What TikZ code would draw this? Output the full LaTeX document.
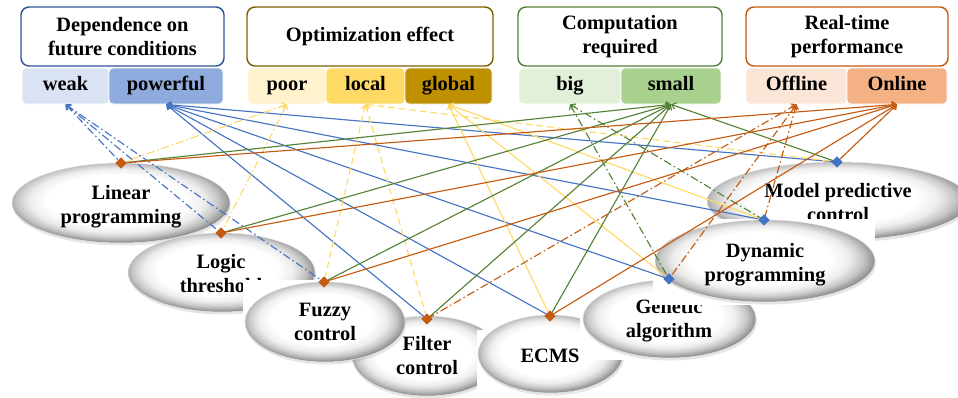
\documentclass[tikz,border=0pt]{standalone}
\usepackage{fontspec}
\setmainfont{Liberation Serif}
\usetikzlibrary{arrows.meta,shapes.geometric}

% frame colours of the four criteria
\definecolor{hblue}{HTML}{2F5597}
\definecolor{hbrown}{HTML}{7F6000}
\definecolor{hgreen}{HTML}{538135}
\definecolor{horange}{HTML}{C55A11}
% option cells
\definecolor{fweak}{HTML}{DAE3F3}
\definecolor{fpow}{HTML}{8FAADC}
\definecolor{fpoor}{HTML}{FFF2CC}
\definecolor{flocal}{HTML}{FFD966}
\definecolor{fglobal}{HTML}{BF9000}
\definecolor{fbig}{HTML}{E2F0D9}
\definecolor{fsmall}{HTML}{A9D18E}
\definecolor{foff}{HTML}{FBE5D6}
\definecolor{fon}{HTML}{F4B183}
% connector colours
\definecolor{lblue}{HTML}{4472C4}
\definecolor{lyellow}{HTML}{FFD966}
\definecolor{lgreen}{HTML}{548235}
\definecolor{lorange}{HTML}{C55A11}

% bevelled look of the method ellipses (path edge sits at 25bp)
\pgfdeclareradialshading{bevel}{\pgfpoint{-1.5bp}{2.5bp}}{%
  color(0bp)=(white); color(16bp)=(white); color(20bp)=(black!7);
  color(23bp)=(black!22); color(25.5bp)=(black!42); color(28bp)=(black!55);
  color(50bp)=(black!55)}

\newcommand\bevelell[4]{%
  \fill[black!40, opacity=.25, shift={(1,2.5)}] (#1,#2) ellipse [x radius=#3, y radius=#4];
  \path[shade, shading=bevel, draw=black!10, line width=0.4pt]
    (#1,#2) ellipse [x radius=#3, y radius=#4];}

\begin{document}
\begin{tikzpicture}[x=0.75pt,y=-0.75pt,
  txt/.style={font=\bfseries\fontsize{15.3}{18}\selectfont, align=center, inner sep=0pt},
  hbox/.style={txt, draw=#1, line width=1.1pt, rounded corners=6pt, fill=white,
               minimum height=59*0.75pt},
  cell/.style={txt, fill=#1, draw=white, line width=0.6pt, rounded corners=3pt,
               text height=10.5pt, text depth=3.2pt, minimum height=36*0.75pt},
  lbl/.style={txt},
  mk/.style={diamond, fill=#1, inner sep=0pt, minimum size=8.5pt},
  conn/.style={line width=0.85pt, {Straight Barb[length=3pt,width=5pt]}-},
  dashdot/.style={dash pattern=on 6pt off 2.2pt on 1.2pt off 2.2pt},
  dashline/.style={dash pattern=on 5pt off 3pt},
]
\useasboundingbox (0,0) rectangle (958,397);
\clip (0,0) rectangle (958,397);

% criteria headers
\node[hbox=hblue,   minimum width=203*0.75pt] (h1) at (122.5,36.5) {Dependence on\\future conditions};
\node[hbox=hbrown,  minimum width=246*0.75pt] (h2) at (370,36.5)   {Optimization effect};
\node[hbox=hgreen,  minimum width=204*0.75pt] (h3) at (620,36.5)   {Computation\\required};
\node[hbox=horange, minimum width=202*0.75pt] (h4) at (847,36.5)   {Real-time\\performance};

% option cells
\node[cell=fweak,   minimum width=87*0.75pt]  (weak)     at (65.5,86)  {weak};
\node[cell=fpow,    minimum width=114*0.75pt] (powerful) at (166,86)   {powerful};
\node[cell=fpoor,   minimum width=78*0.75pt]  (poor)     at (287,86)   {poor};
\node[cell=flocal,  minimum width=79*0.75pt]  (local)    at (365.5,86) {local};
\node[cell=fglobal, minimum width=87*0.75pt]  (global)   at (448.5,86) {global};
\node[cell=fbig,    minimum width=102*0.75pt] (big)      at (570,86)   {big};
\node[cell=fsmall,  minimum width=100*0.75pt] (small)    at (671,86)   {small};
\node[cell=foff,    minimum width=101*0.75pt] (offline)  at (796.5,86) {Offline};
\node[cell=fon,     minimum width=100*0.75pt] (online)   at (897,86)   {Online};

% method ellipses, back to front
\bevelell{121}{203}{109}{40}
\node[lbl] (lp) at (121,207) {Linear\\programming};
\bevelell{221.5}{272.5}{93.5}{39.5}
\node[lbl] (lt) at (221,274) {Logic\\threshold};
\bevelell{427}{356}{75}{40}
\node[lbl] (fl) at (427,356) {Filter\\control};
\fill[white] (243,280) rectangle (320,345);
\bevelell{325}{322}{80}{40}
\node[lbl] (fz) at (325,322) {Fuzzy\\control};
\fill[white] (477,330) rectangle (590,397);
\bevelell{550.5}{354}{72.5}{39}
\node[lbl] (ec) at (550,356) {ECMS};
\fill[white] (580,292) rectangle (700,360);
\bevelell{669.5}{319}{86.5}{39}
\node[lbl] (ga) at (669,321) {Genetic\\algorithm};
\bevelell{838}{201}{131}{39}
\node[lbl] (mp) at (838,203) {Model predictive\\control};
\fill[white] (653,219) rectangle (875,305);
\bevelell{765}{261}{110}{41}
\node[lbl] (dp) at (765,265) {Dynamic\\programming};

% attachment points on the methods
\coordinate (lpm) at (121,163);
\coordinate (ltm) at (221,233);
\coordinate (fzm) at (324,282);
\coordinate (flm) at (427,319);
\coordinate (ecm) at (550,316);
\coordinate (gam) at (669,279);
\coordinate (dpm) at (764,220);
\coordinate (mpm) at (837,162);

% dependence on future conditions
\foreach \m in {lpm,ltm,fzm} \draw[conn, lblue, dashdot] (weak.south) -- (\m);
\foreach \m in {flm,ecm,gam,dpm,mpm} \draw[conn, lblue] (powerful.south) -- (\m);
% optimization effect
\foreach \m in {lpm,ltm} \draw[conn, lyellow, dashdot] (poor.south) -- (\m);
\foreach \m in {fzm,flm,mpm} \draw[conn, lyellow, dashline] (local.south) -- (\m);
\foreach \m in {ecm,gam,dpm} \draw[conn, lyellow] (global.south) -- (\m);
% computation required
\foreach \m in {gam,dpm} \draw[conn, lgreen, dashdot] (big.south) -- (\m);
\foreach \m in {lpm,ltm,fzm,flm,ecm,mpm} \draw[conn, lgreen] (small.south) -- (\m);
% real-time performance
\foreach \m in {flm,gam,dpm} \draw[conn, lorange, dashdot] (offline.south) -- (\m);
\foreach \m in {lpm,ltm,fzm,ecm,mpm} \draw[conn, lorange] (online.south) -- (\m);

% markers
\node[mk=lorange] (lpk) at (lpm) {};
\node[mk=lorange] (ltk) at (ltm) {};
\node[mk=lorange] (fzk) at (fzm) {};
\node[mk=lorange] (flk) at (flm) {};
\node[mk=lorange] (eck) at (ecm) {};
\node[mk=lblue]   (gak) at (gam) {};
\node[mk=lblue]   (dpk) at (dpm) {};
\node[mk=lblue]   (mpk) at (mpm) {};
\end{tikzpicture}
\end{document}
